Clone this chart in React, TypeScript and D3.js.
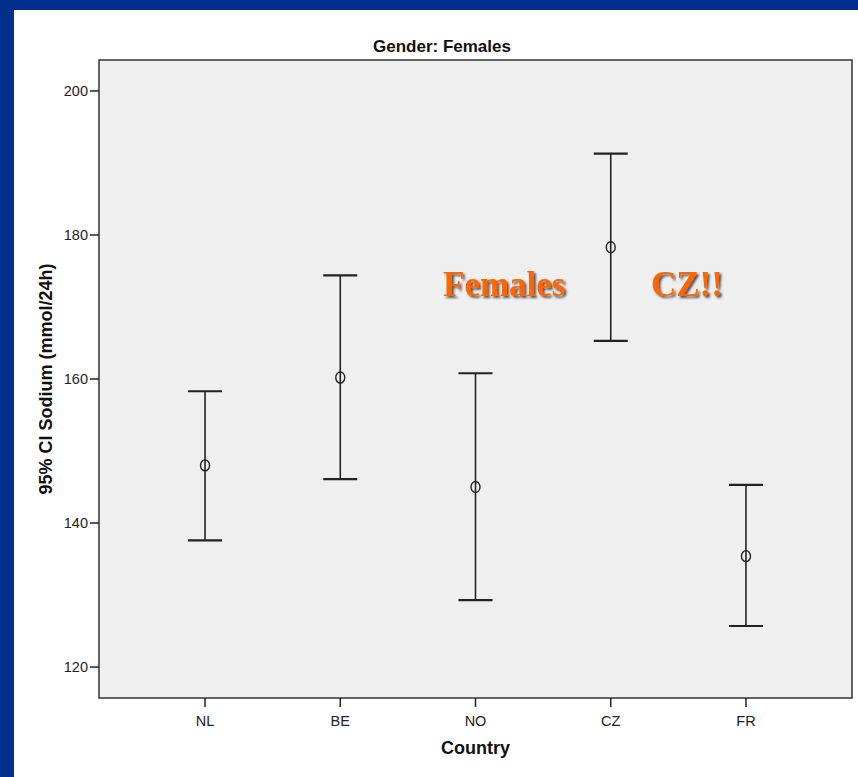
import React from "react";
import * as d3 from "d3";

// values (mmol/24h)
const countries = ["NL", "BE", "NO", "CZ", "FR"];
const means = [148.0, 160.2, 145.0, 178.3, 135.4];
const lower = [137.6, 146.1, 129.3, 165.3, 125.7];
const upper = [158.3, 174.4, 160.8, 191.3, 145.3];
const yTicks = [120, 140, 160, 180, 200];

const W = 858;
const H = 777;
const plot = { left: 99, top: 60, right: 852, bottom: 698 };

export default function App() {
  const x = d3.scalePoint<string>().domain(countries).range([plot.left, plot.right]).padding(0.784);
  const y = d3.scaleLinear().domain([115.7, 204.3]).range([plot.bottom, plot.top]);
  const ink = "#222";
  const capHalf = 17;

  return (
    <svg width={W} height={H} style={{ position: "absolute", left: 0, top: 0 }} fontFamily="'Liberation Sans', Arial, sans-serif">
      <defs>
        <filter id="shadow" x="-10%" y="-10%" width="130%" height="140%">
          <feDropShadow dx={2} dy={2} stdDeviation={0.8} floodColor="#333" floodOpacity={0.8} />
        </filter>
      </defs>
      <rect x={0} y={0} width={W} height={H} fill="#002f8e" />
      <rect x={14} y={10} width={W - 14} height={H - 10} fill="#fff" />

      <text x={442} y={52} textAnchor="middle" fontSize={17} fontWeight="bold" fill="#111">Gender: Females</text>

      <rect x={plot.left} y={plot.top} width={plot.right - plot.left} height={plot.bottom - plot.top} fill="#efefef" stroke="#333" strokeWidth={1.5} />

      {/* y axis */}
      {yTicks.map(t => (
        <g key={t}>
          <line x1={plot.left - 9} x2={plot.left} y1={y(t)} y2={y(t)} stroke={ink} strokeWidth={1.5} />
          <text x={plot.left - 11} y={y(t)} dy="0.35em" textAnchor="end" fontSize={14.5} fill="#222">{t}</text>
        </g>
      ))}
      <text transform={`translate(52,${(plot.top + plot.bottom) / 2}) rotate(-90)`} textAnchor="middle" fontSize={18} fontWeight="bold" fill="#111">95% CI Sodium (mmol/24h)</text>

      {/* x axis */}
      {countries.map(c => (
        <g key={c}>
          <line x1={x(c)} x2={x(c)} y1={plot.bottom} y2={plot.bottom + 9} stroke={ink} strokeWidth={1.5} />
          <text x={x(c)} y={726} textAnchor="middle" fontSize={14.5} fill="#222">{c}</text>
        </g>
      ))}
      <text x={(plot.left + plot.right) / 2} y={754} textAnchor="middle" fontSize={18} fontWeight="bold" fill="#111">Country</text>

      {/* error bars */}
      {countries.map((c, i) => {
        const cx = x(c) as number;
        return (
          <g key={c} stroke={ink} strokeWidth={1.6} fill="none">
            <line x1={cx} x2={cx} y1={y(upper[i])} y2={y(lower[i])} />
            <line x1={cx - capHalf} x2={cx + capHalf} y1={y(upper[i])} y2={y(upper[i])} strokeWidth={2.2} />
            <line x1={cx - capHalf} x2={cx + capHalf} y1={y(lower[i])} y2={y(lower[i])} strokeWidth={2.2} />
            <ellipse cx={cx} cy={y(means[i])} rx={4.5} ry={5.5} fill="none" strokeWidth={1.4} />
          </g>
        );
      })}

      {/* annotations */}
      <g fontFamily="'Liberation Serif', 'Times New Roman', serif" fontWeight="bold" fontSize={35} fill="#ff6600" filter="url(#shadow)">
        <text x={443} y={296}>Females</text>
        <text x={651} y={296}>CZ!!</text>
      </g>
    </svg>
  );
}
